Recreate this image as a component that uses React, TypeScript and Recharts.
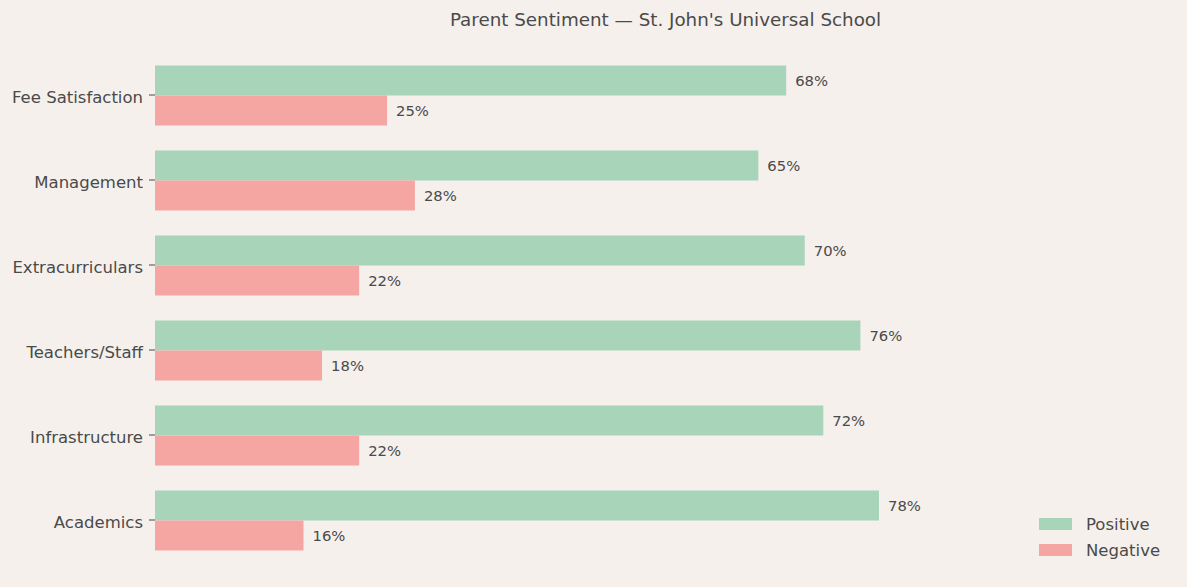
import React from "react";
import { BarChart, Bar, XAxis, YAxis, LabelList } from "recharts";

const categories = ["Fee Satisfaction", "Management", "Extracurriculars", "Teachers/Staff", "Infrastructure", "Academics"];
const positive = [68, 65, 70, 76, 72, 78];
const negative = [25, 28, 22, 18, 22, 16];
const seriesNames = ["Positive", "Negative"];

const data = categories.map((c, i) => ({ category: c, Positive: positive[i], Negative: negative[i] }));

const GREEN = "#a8d4b9";
const RED = "#f5a6a3";
const TEXT = "#4a4a4a";
const FONT = "'DejaVu Sans', sans-serif";
const colors = [GREEN, RED];

export default function App() {
  return (
    <div style={{ position: "absolute", left: 0, top: 0, width: 1187, height: 587, background: "#f5f0ec", fontFamily: FONT }}>
      <div
        style={{
          position: "absolute",
          left: 0,
          width: 1187,
          top: 9,
          textAlign: "center",
          paddingLeft: 144,
          boxSizing: "border-box",
          fontSize: 18.3,
          color: TEXT,
        }}
      >
        Parent Sentiment — St. John's Universal School
      </div>
      <BarChart
        width={1187}
        height={587}
        data={data}
        layout="vertical"
        margin={{ top: 52.5, right: 11, bottom: 24.5, left: 0 }}
        barSize={30}
        barGap={0}
      >
        <XAxis type="number" domain={[0, 110]} hide />
        <YAxis
          type="category"
          dataKey="category"
          width={155}
          axisLine={false}
          tickLine={{ stroke: TEXT }}
          tickSize={6}
          tickMargin={6}
          tick={{ fill: TEXT, fontSize: 16.5, fontFamily: FONT, dy: 2 }}
        />
        <Bar dataKey="Positive" fill={GREEN} isAnimationActive={false}>
          <LabelList dataKey="Positive" position="right" offset={9} formatter={(v: number) => `${v}%`} fill={TEXT} fontSize={14.8} fontFamily={FONT} />
        </Bar>
        <Bar dataKey="Negative" fill={RED} isAnimationActive={false}>
          <LabelList dataKey="Negative" position="right" offset={9} formatter={(v: number) => `${v}%`} fill={TEXT} fontSize={14.8} fontFamily={FONT} />
        </Bar>
      </BarChart>
      <div style={{ position: "absolute", left: 1039, top: 511, fontFamily: FONT, fontSize: 16.5, color: TEXT }}>
        {seriesNames.map((name, i) => (
          <div key={name} style={{ display: "flex", alignItems: "center", height: 26 }}>
            <div style={{ width: 33, height: 12, background: colors[i], marginRight: 14 }} />
            <span>{name}</span>
          </div>
        ))}
      </div>
    </div>
  );
}
